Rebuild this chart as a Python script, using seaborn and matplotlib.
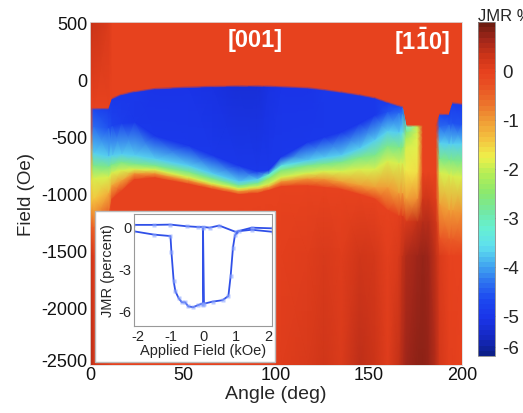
import numpy as np
import matplotlib
matplotlib.use('Agg')
import matplotlib.pyplot as plt
import seaborn as sns
from matplotlib.colors import LinearSegmentedColormap, Normalize
from matplotlib.patches import Rectangle
from matplotlib.cm import ScalarMappable
from matplotlib.transforms import ScaledTranslation

# ---------------- data: map columns (angle, deg) and per-column band edges (field, Oe) ----------------
angle    = [0, 2, 10, 12, 17, 24, 35, 53, 66, 80, 90, 96, 103, 117, 126, 135, 145, 153, 160, 166, 168, 170, 176, 179, 182, 186, 188, 193, 195, 200]
v_top0   = [0.4, 0.35, 0.15, 0, 0, 0, 0, 0, 0, 0, 0, 0, 0, 0, 0, 0, 0, 0, 0, 0, 0, 0, 0, 0, 0, 0, 0, 0, 0, 0]
f_top    = [-270, -270, -270, -180, -145, -120, -95, -82, -76, -72, -72, -74, -78, -88, -105, -125, -150, -175, -215, -245, -255, -420, -420, -420, -420, -420, -320, -320, -220, -230]
v_top    = [-0.2, -4.7, -4.9, -5.0, -5.0, -5.0, -5.1, -5.1, -5.15, -5.25, -5.25, -5.15, -5.1, -5.1, -5.0, -5.0, -5.0, -5.0, -4.9, -4.7, -4.6, -3.2, -2.0, 0, 0, 0, -4.7, -4.8, -4.9, -4.9]
f_blue   = [-450, -420, -430, -410, -390, -380, -500, -585, -670, -760, -810, -800, -680, -555, -510, -467, -390, -320, -290, -300, -310, -470, -470, -470, -470, -470, -420, -400, -390, -400]
v_blue   = [-0.3, -4.4, -4.6, -4.8, -4.9, -5.0, -5.0, -5.0, -5.0, -5.0, -5.0, -5.0, -5.0, -5.0, -5.0, -5.0, -5.0, -5.0, -4.6, -4.4, -4.3, -2.6, -1.9, 0, 0, 0, -4.4, -4.5, -4.6, -4.6]
f_cyan   = [-600, -650, -680, -670, -660, -670, -700, -760, -830, -900, -880, -840, -760, -715, -690, -670, -610, -540, -460, -470, -470, -520, -520, -520, -520, -520, -560, -570, -570, -570]
v_cyan   = [-0.8, -3.7, -3.7, -3.7, -3.7, -3.7, -3.7, -3.7, -3.7, -3.7, -3.7, -3.2, -3.4, -3.7, -3.7, -3.7, -3.7, -3.7, -3.7, -3.7, -3.6, -2.2, -1.85, 0, 0, 0, -3.7, -3.7, -3.7, -3.7]
f_green  = [-750, -760, -770, -750, -730, -745, -760, -815, -875, -935, -915, -875, -800, -760, -745, -730, -690, -670, -590, -600, -600, -600, -600, -600, -600, -600, -700, -710, -715, -720]
v_green  = [-1.2, -2.7, -2.7, -2.7, -2.7, -2.7, -2.7, -2.7, -2.7, -2.7, -2.7, -2.4, -2.6, -2.7, -2.7, -2.7, -2.7, -2.7, -2.7, -2.7, -2.6, -1.9, -1.8, 0, 0, 0, -2.7, -2.7, -2.7, -2.7]
f_yellow = [-900, -870, -860, -820, -800, -790, -795, -860, -915, -960, -945, -920, -860, -825, -810, -810, -790, -790, -720, -740, -740, -800, -820, -820, -820, -820, -820, -840, -850, -860]
v_yellow = [-1.5, -1.9, -1.9, -1.9, -1.9, -1.9, -1.9, -1.9, -1.9, -1.9, -1.9, -1.9, -1.9, -1.9, -1.9, -1.9, -1.9, -1.9, -1.9, -1.9, -1.9, -1.7, -1.6, 0, 0, 0, -1.9, -1.9, -1.9, -1.9]
f_orange = [-1100, -1050, -1000, -930, -890, -830, -830, -890, -940, -985, -970, -950, -900, -876, -880, -900, -930, -950, -950, -1000, -1000, -1050, -1050, -1050, -1050, -1050, -1100, -1150, -1150, -1180]
v_orange = [-1.2, -1.4, -1.2, -1.1, -1.0, -0.9, -0.9, -0.9, -0.9, -0.9, -0.9, -0.9, -0.9, -0.9, -0.9, -1.0, -1.0, -1.0, -1.0, -1.0, -1.0, -1.0, -0.9, 0.3, 0.3, 0.1, -1.0, -1.0, -1.0, -0.9]
f_red    = [-1300, -1300, -1200, -1050, -980, -880, -865, -920, -965, -1010, -1000, -975, -940, -935, -950, -965, -1010, -1050, -1150, -1200, -1200, -1250, -1250, -1250, -1250, -1250, -1400, -1400, -1400, -1450]
v_red    = [-0.3, -0.5, -0.2, 0, 0, 0, 0, 0, 0, 0, 0, 0, 0, 0, 0, 0, 0, 0, 0, 0.05, 0.1, 0.2, 0.4, 0.5, 0.5, 0.3, -0.3, -0.4, -0.4, -0.3]
v_low    = [0.4, 0.1, 0.0, 0, 0, 0, 0, 0, 0, 0, 0.03, 0.03, 0.05, 0.1, 0.2, 0.1, 0.3, 0.25, 0.05, 0.2, 0.4, 0.55, 0.7, 0.75, 0.7, 0.4, 0.15, 0.0, 0.0, 0.0]
v_bot    = [0.6, 0.3, 0.1, 0, 0, 0, 0, 0, 0, 0, 0.05, 0.05, 0.1, 0.2, 0.3, 0.15, 0.45, 0.35, 0.1, 0.4, 0.55, 0.7, 0.8, 0.8, 0.75, 0.5, 0.25, 0.05, 0.05, 0.0]

# inset hysteresis loop (kOe, JMR %)
loop_a_x = [-2.15, -1.5, -1.0, -0.5, -0.15, 0.0, 0.2, 0.5, 1.0, 1.5, 2.15]
loop_a_y = [0.15, 0.15, 0.17, 0.05, 0.0, 0.0, -0.05, 0.1, -0.35, -0.05, -0.1]
loop_b_x = [-2.15, -1.5, -1.0, -0.97, -0.9, -0.85, -0.75, -0.65, -0.55, -0.45, -0.3, -0.15, -0.03, 0.0, 0.0, 0.03, 0.3, 0.6, 0.78, 0.85, 0.92, 0.98, 1.1, 1.5, 2.15]
loop_b_y = [-0.3, -0.55, -0.65, -1.8, -3.9, -4.6, -5.1, -5.4, -5.4, -5.7, -5.75, -5.6, -5.5, -5.6, -0.1, -5.5, -5.35, -5.25, -4.95, -3.5, -1.5, -0.6, -0.3, -0.2, -0.35]

cbar_ticks = [0, -1, -2, -3, -4, -5, -5.63]
cbar_labels = ['0', '-1', '-2', '-3', '-4', '-5', '-6']
x_ticks = [0, 50, 100, 150, 200]
y_ticks = [500, 0, -500, -1000, -1500, -2000, -2500]

# ---------------- style ----------------
sns.set_theme(style='white')
plt.rcParams['font.family'] = ['Liberation Sans', 'DejaVu Sans']
plt.rcParams['axes.unicode_minus'] = False
plt.rcParams['mathtext.fontset'] = 'custom'
plt.rcParams['mathtext.rm'] = 'Liberation Sans'
plt.rcParams['mathtext.bf'] = 'Liberation Sans:bold'

VMIN, VMAX = -5.82, 1.0
stops = [(-5.82, '#0d1f8a'), (-5.5, '#1428c0'), (-5.1, '#1a34e8'), (-4.7, '#1c48f0'),
         (-4.3, '#2f78f0'), (-4.0, '#42a6f0'), (-3.6, '#5fe0ee'), (-3.2, '#66f0d0'),
         (-2.9, '#72e8a6'), (-2.5, '#8ae86e'), (-2.1, '#b4ee56'), (-1.75, '#eef04a'),
         (-1.4, '#f4c640'), (-1.0, '#f09c36'), (-0.6, '#ec6e2a'), (-0.2, '#e84c22'),
         (0.0, '#e8421e'), (0.35, '#cc3418'), (0.7, '#a0261a'), (1.0, '#6e1c10')]
cmap = LinearSegmentedColormap.from_list('jmr', [((v - VMIN) / (VMAX - VMIN), c) for v, c in stops], N=256)
cmap64 = LinearSegmentedColormap.from_list('jmr64', [((v - VMIN) / (VMAX - VMIN), c) for v, c in stops], N=64)
norm = Normalize(VMIN, VMAX)

fig = plt.figure(figsize=(5.23, 4.14), dpi=100)
W, H = 523.0, 414.0
ax = fig.add_axes([90 / W, 1 - 366 / H, 372 / W, 343 / H])

A = np.array(angle, float)
n = len(A)
ft = np.array(f_top, float)
F = np.vstack([np.full(n, 500.0), ft + 18, ft, f_blue, f_cyan, f_green, f_yellow,
               f_orange, f_red, np.full(n, -1550.0), np.full(n, -2500.0)])
V = np.vstack([v_top0, np.zeros(n), v_top, v_blue, v_cyan, v_green, v_yellow,
               v_orange, v_red, v_low, v_bot])
X = np.tile(A, (F.shape[0], 1))
ax.pcolormesh(X, F, V, shading='gouraud', cmap=cmap, norm=norm, rasterized=True)
ax.set_xlim(0, 200)
ax.set_ylim(-2500, 500)
ax.set_xticks(x_ticks)
ax.set_yticks(y_ticks)
ax.tick_params(labelsize=13, length=0, pad=2, colors='#111111')
ax.tick_params(axis='x', pad=1)
for s in ax.spines.values():
    s.set_color('#dddddd')
    s.set_linewidth(0.6)
ax.set_xlabel('Angle (deg)', fontsize=14, labelpad=1)
ax.set_ylabel('Field (Oe)', fontsize=13.5, labelpad=4)
# the bottom y label sits a little above its tick, as in the reference
last = ax.get_yticklabels()[-1]
last.set_transform(last.get_transform() + ScaledTranslation(0, 4 / 72, fig.dpi_scale_trans))

ax.text(88.7, 345, '[001]', color='white', fontsize=17, fontweight='bold', ha='center', va='center')
ax.text(178.5, 342, r'$\mathbf{[1\bar{1}0]}$', color='white', fontsize=17, ha='center', va='center')

# colorbar
cax = fig.add_axes([478 / W, 1 - 357 / H, 17 / W, 334 / H])
cb = fig.colorbar(ScalarMappable(norm=norm, cmap=cmap64), cax=cax)
cb.set_ticks(cbar_ticks)
cb.set_ticklabels(cbar_labels)
cb.outline.set_edgecolor('#888888')
cb.outline.set_linewidth(0.6)
cax.tick_params(axis='y', which='both', left=True, right=True, labelleft=False, labelright=True,
                direction='in', length=3, width=0.6, color='#555555', labelsize=13.5, pad=5)
cax.minorticks_off()
fig.text(478 / W, 1 - 21 / H, 'JMR %', fontsize=12, ha='left', va='baseline')

# inset
fig.patches.append(Rectangle((95 / W, 1 - 363 / H), 180 / W, 151 / H, transform=fig.transFigure,
                             facecolor='white', edgecolor='#bbbbbb', linewidth=1.0, zorder=5))
iax = fig.add_axes([134 / W, 1 - 327 / H, 138 / W, 112 / H], zorder=6)
iax.set_facecolor('white')
mk = dict(marker='s', markersize=3, markerfacecolor=(0.55, 0.65, 1.0, 0.6), markeredgecolor='none',
          color='#3050e8', linewidth=1.3, sort=False, estimator=None, legend=False)
sns.lineplot(x=loop_a_x, y=loop_a_y, ax=iax, **mk)
sns.lineplot(x=loop_b_x, y=loop_b_y, ax=iax, **mk)
iax.set_xlim(-2.12, 2.12)
iax.set_ylim(-7.1, 0.93)
iax.set_xticks([-2, -1, 0, 1, 2])
iax.set_yticks([0, -3, -6])
iax.tick_params(labelsize=10.5, direction='in', length=2.5, width=0.6, color='#888888', pad=2)
for s in iax.spines.values():
    s.set_color('#999999')
    s.set_linewidth(0.8)
iax.set_xlabel('Applied Field (kOe)', fontsize=10.5, labelpad=0)
iax.set_ylabel('JMR (percent)', fontsize=10.5, labelpad=2)

fig.savefig('out.png', dpi=100)
